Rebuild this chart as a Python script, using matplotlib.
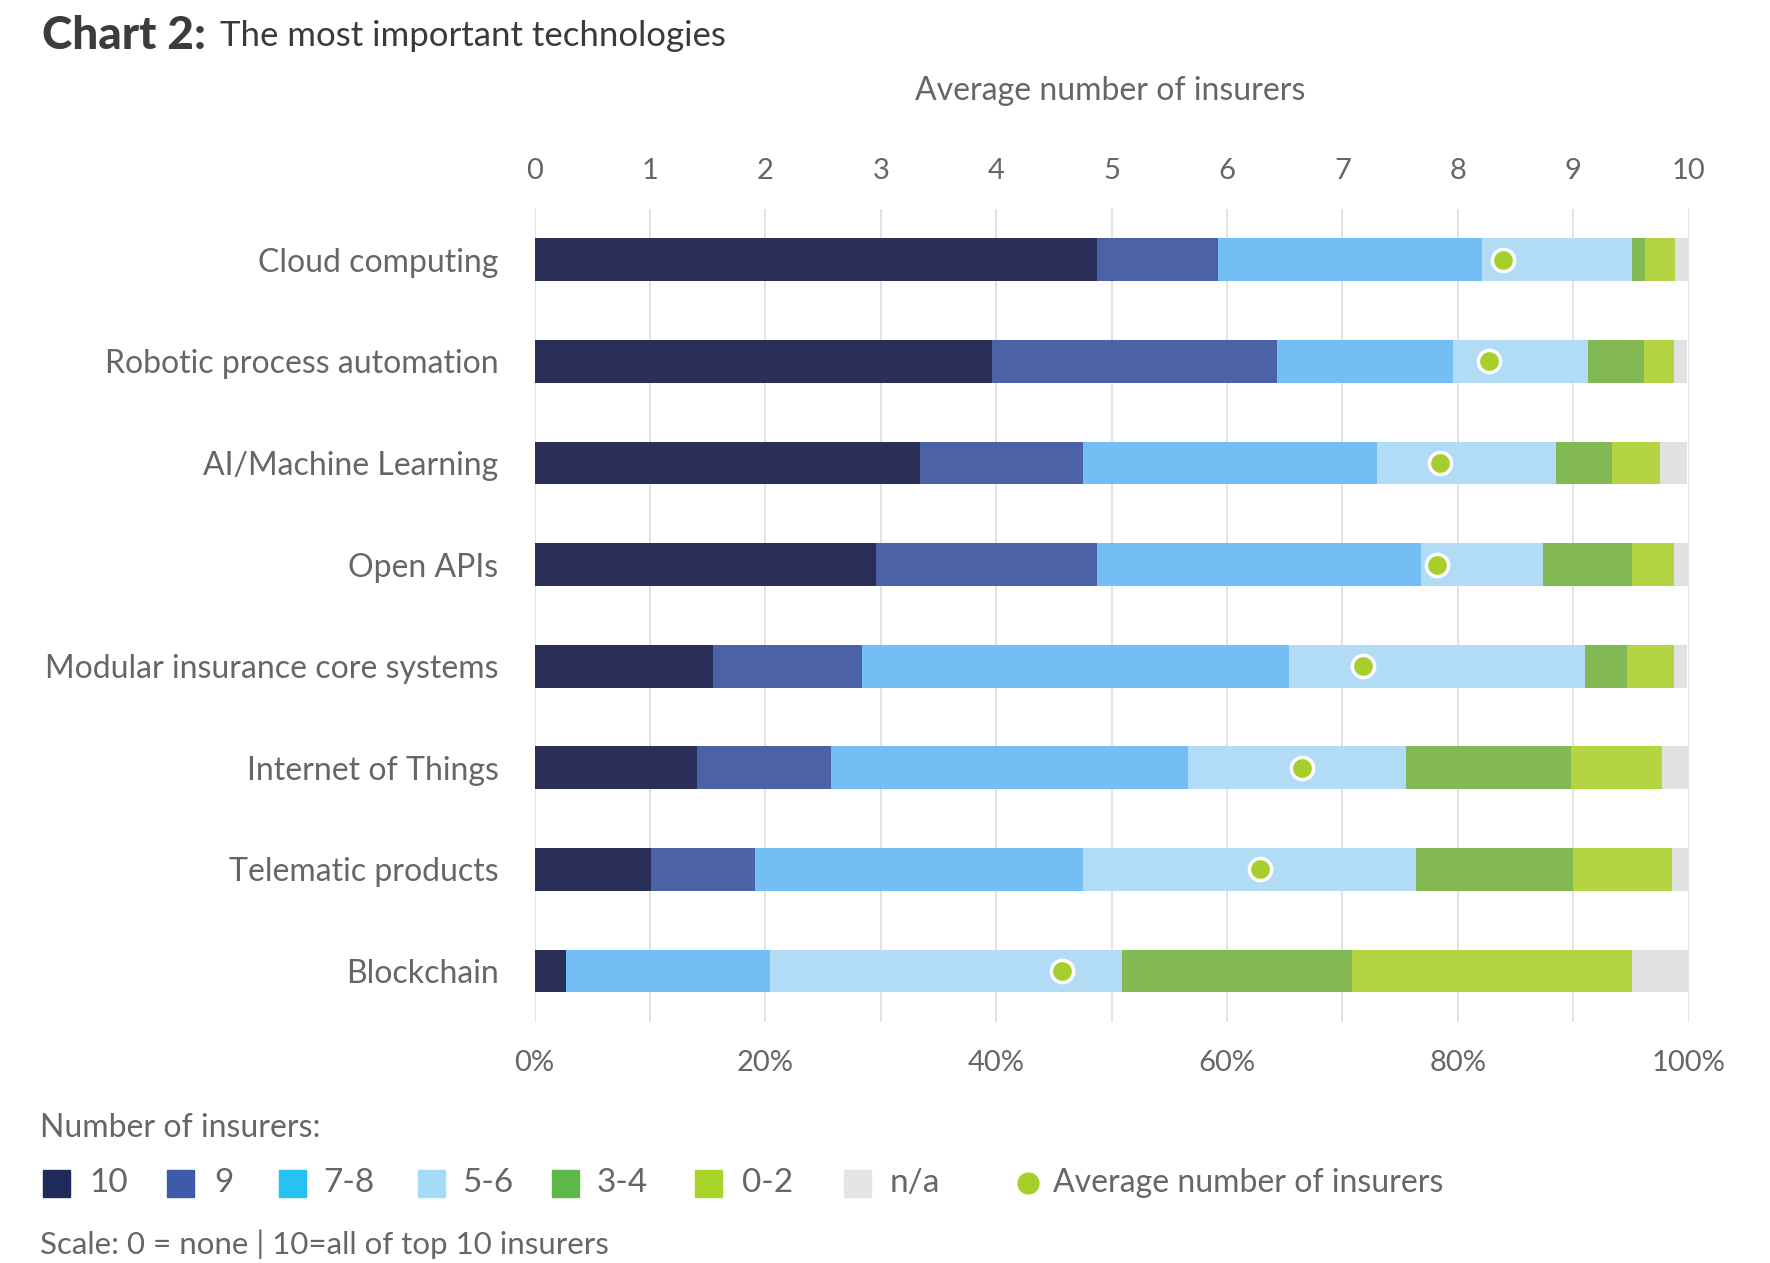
import numpy as np
import matplotlib.pyplot as plt
from matplotlib.patches import Rectangle
from matplotlib.lines import Line2D

plt.rcParams['font.family'] = ['Lato', 'DejaVu Sans']

# data (share of insurers in %, per technology)
categories = ["Cloud computing", "Robotic process automation", "AI/Machine Learning",
              "Open APIs", "Modular insurance core systems", "Internet of Things",
              "Telematic products", "Blockchain"]
s10 = [48.7, 39.6, 33.4, 29.6, 15.5, 14.1, 10.1, 2.7]
s9 = [10.5, 24.7, 14.1, 19.1, 12.9, 11.6, 9.0, 0.0]
s78 = [22.9, 15.3, 25.5, 28.1, 37.0, 30.9, 28.4, 17.7]
s56 = [13.0, 11.7, 15.5, 10.6, 25.6, 18.9, 28.9, 30.5]
s34 = [1.1, 4.8, 4.9, 7.7, 3.7, 14.3, 13.6, 19.9]
s02 = [2.6, 2.6, 4.1, 3.6, 4.0, 7.9, 8.6, 24.3]
s_na = [1.2, 1.2, 2.4, 1.3, 1.2, 2.3, 1.4, 5.0]
avg_insurers = [8.39, 8.27, 7.85, 7.82, 7.18, 6.65, 6.29, 4.57]

series_labels = ["10", "9", "7-8", "5-6", "3-4", "0-2", "n/a"]
pct_ticks = [0, 20, 40, 60, 80, 100]
avg_ticks = list(range(0, 11))

bar_colors = ["#2a2f5a", "#4c62a7", "#73bef5", "#b2dbf6", "#82b955", "#b5d442", "#e1e1e1"]
legend_colors = ["#1e2a5a", "#3d5ba9", "#27c1f2", "#a4dcf8", "#5cb848", "#a9d42a", "#e4e4e4"]
dot_color = "#a6cf2c"
text_color = "#666666"
fw = 'normal'

fig = plt.figure(figsize=(17.7, 12.63), dpi=100)
ax = fig.add_axes([0.302, 0.191, 0.652, 0.6435])

y = np.arange(len(categories))
left = np.zeros(len(categories))
for vals, col in zip([s10, s9, s78, s56, s34, s02, s_na], bar_colors):
    ax.barh(y, vals, left=left, height=0.42, color=col, zorder=2)
    left += np.array(vals)

ax.set_xlim(0, 100)
ax.set_ylim(len(categories) - 0.5, -0.5)
ax.set_yticks(y)
ax.set_yticklabels(categories, fontsize=23, fontweight=fw, color=text_color)
ax.set_xticks(pct_ticks)
ax.set_xticklabels([f"{t}%" for t in pct_ticks], fontsize=21, fontweight=fw, color=text_color)
ax.set_xticks(np.arange(0, 101, 10), minor=True)
ax.tick_params(axis='y', length=0, pad=26)
ax.tick_params(axis='x', which='both', length=0, pad=20)
ax.grid(axis='x', which='both', color='#dddddd', linewidth=1.2, zorder=0)
for s in ax.spines.values():
    s.set_visible(False)

ax2 = ax.twiny()
ax2.set_xlim(0, 10)
ax2.set_xticks(avg_ticks)
ax2.set_xticklabels([str(t) for t in avg_ticks], fontsize=21, fontweight=fw, color=text_color)
ax2.tick_params(axis='x', length=0, pad=18)
for s in ax2.spines.values():
    s.set_visible(False)
ax2.plot(avg_insurers, y, 'o', color=dot_color, markersize=16,
         markeredgecolor='white', markeredgewidth=2.5, zorder=5, clip_on=False)
ax2.set_ylim(ax.get_ylim())

fig.text(0.627, 0.928, "Average number of insurers", fontsize=23, fontweight=fw,
         color=text_color, ha='center', va='center')

# title
fig.text(0.024, 0.9715, "Chart 2:", fontsize=33, fontweight='black', color='#3c3c3c',
         ha='left', va='center')
fig.text(0.1243, 0.9715, "The most important technologies", fontsize=25, fontweight=fw,
         color='#3a3a3a', ha='left', va='center')

# legend
fig.text(0.0226, 0.107, "Number of insurers:", fontsize=23, fontweight=fw,
         color=text_color, ha='left', va='center')
sq_x = [43, 167, 279, 418, 552, 695, 844]
lab_x = [89, 214, 323, 462, 597, 742, 890]
W, H = 1770, 1263
ly = 0.0633
for sx, lx, lab, col in zip(sq_x, lab_x, series_labels, legend_colors):
    fig.patches.append(Rectangle((sx / W, ly - 13.5 / H), 27 / W, 27 / H,
                                 transform=fig.transFigure, color=col))
    fig.text(lx / W, ly, lab, fontsize=24, fontweight=fw, color=text_color,
             ha='left', va='center')
fig.lines.append(Line2D([1028 / W], [ly], marker='o', color=dot_color, markersize=15,
                        transform=fig.transFigure))
fig.text(1053 / W, ly, "Average number of insurers", fontsize=23, fontweight=fw,
         color=text_color, ha='left', va='center')

fig.text(0.0226, 0.0145, "Scale: 0 = none | 10=all of top 10 insurers", fontsize=22.5,
         fontweight=fw, color=text_color, ha='left', va='center')

fig.savefig("out.png", dpi=100, facecolor='white')
